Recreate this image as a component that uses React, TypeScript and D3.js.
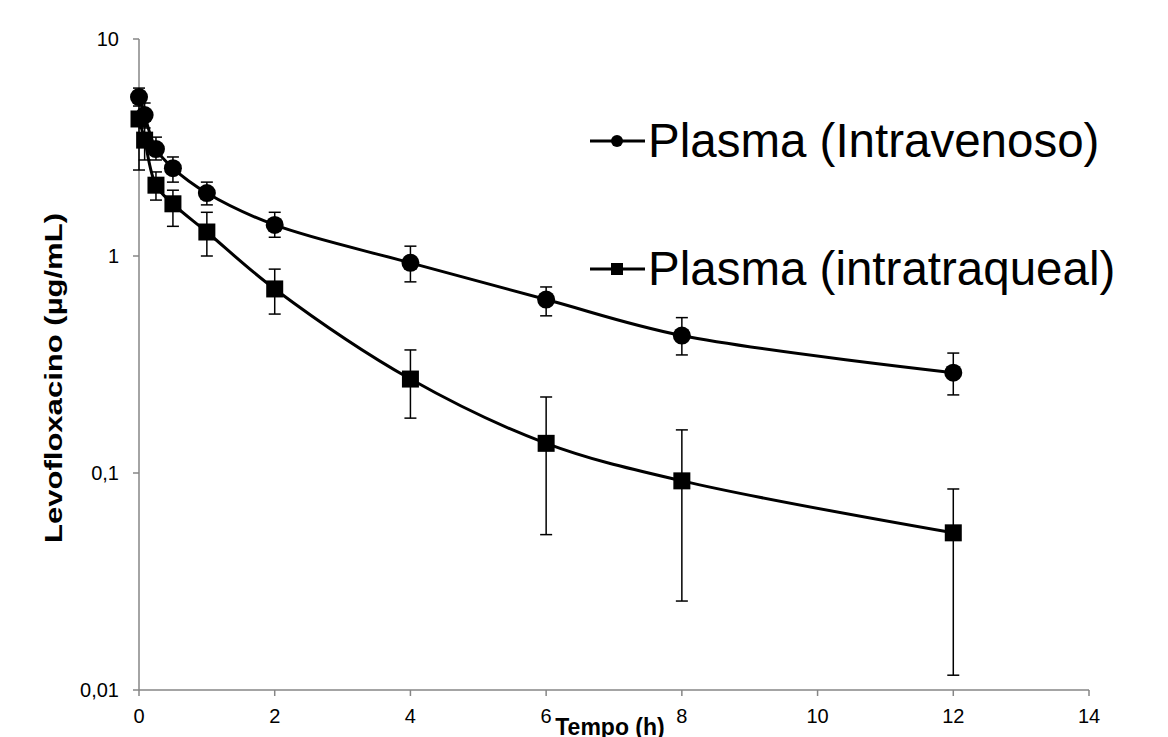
import React from "react";
import * as d3 from "d3";

// time points (h)
const times = [0, 0.083, 0.25, 0.5, 1, 2, 4, 6, 8, 12];

// Plasma (Intravenoso)
const ivMean = [5.4, 4.46, 3.11, 2.54, 1.95, 1.39, 0.93, 0.63, 0.43, 0.29];
const ivUpper = [5.94, 5.07, 3.53, 2.86, 2.19, 1.59, 1.11, 0.72, 0.52, 0.357];
const ivLower = [4.91, 3.89, 2.77, 2.19, 1.72, 1.22, 0.76, 0.53, 0.35, 0.229];

// Plasma (intratraqueal)
const itMean = [4.28, 3.42, 2.12, 1.74, 1.29, 0.705, 0.271, 0.137, 0.092, 0.053];
const itUpper = [5.2, 4.23, 2.44, 2.01, 1.59, 0.87, 0.369, 0.224, 0.158, 0.0844];
const itLower = [2.49, 2.77, 1.81, 1.37, 1.0, 0.54, 0.179, 0.052, 0.0257, 0.0117];

const xTicks = [0, 2, 4, 6, 8, 10, 12, 14];
const yTicks = [0.01, 0.1, 1, 10];
const yTickLabels = ["0,01", "0,1", "1", "10"];

const W = 1168;
const H = 737;
const FONT = "'Liberation Sans', Arial, sans-serif";
const AXIS = "#868686";

const x = d3.scaleLinear().domain([0, 14]).range([139, 1089]);
const y = d3.scaleLog().domain([0.01, 10]).range([690, 39]);

const line = d3
  .line<[number, number]>()
  .x((d) => x(d[0]))
  .y((d) => y(d[1]))
  .curve(d3.curveCatmullRom.alpha(0.5));

function ErrorBars({ upper, lower }: { upper: number[]; lower: number[] }) {
  return (
    <g stroke="#000" strokeWidth={1.5}>
      {times.map((t, i) => (
        <g key={i}>
          <line x1={x(t)} x2={x(t)} y1={y(upper[i])} y2={y(lower[i])} />
          <line x1={x(t) - 6} x2={x(t) + 6} y1={y(upper[i])} y2={y(upper[i])} />
          <line x1={x(t) - 6} x2={x(t) + 6} y1={y(lower[i])} y2={y(lower[i])} />
        </g>
      ))}
    </g>
  );
}

export default function App() {
  const ivPts = times.map((t, i) => [t, ivMean[i]] as [number, number]);
  const itPts = times.map((t, i) => [t, itMean[i]] as [number, number]);

  return (
    <svg
      width={W}
      height={H}
      style={{ position: "absolute", left: 0, top: 0, background: "#fff" }}
      fontFamily={FONT}
    >
      {/* axes */}
      <g stroke={AXIS} strokeWidth={1.5}>
        <line x1={x(0)} x2={x(0)} y1={y(10)} y2={y(0.01)} />
        <line x1={x(0)} x2={x(14)} y1={y(0.01)} y2={y(0.01)} />
        {yTicks.map((v) => (
          <line key={v} x1={x(0) - 6} x2={x(0)} y1={y(v)} y2={y(v)} />
        ))}
        {xTicks.map((v) => (
          <line key={v} x1={x(v)} x2={x(v)} y1={y(0.01)} y2={y(0.01) + 6} />
        ))}
      </g>
      <g fontSize={20} fill="#000">
        {yTicks.map((v, i) => (
          <text key={v} x={x(0) - 20} y={y(v) + 7} textAnchor="end">
            {yTickLabels[i]}
          </text>
        ))}
        {xTicks.map((v) => (
          <text key={v} x={x(v)} y={y(0.01) + 33} textAnchor="middle">
            {v}
          </text>
        ))}
      </g>

      {/* axis titles */}
      <text x={610} y={735} textAnchor="middle" fontSize={23} fontWeight="bold">
        Tempo (h)
      </text>
      <text
        transform={`translate(62,378) rotate(-90)`}
        textAnchor="middle"
        fontSize={23}
        fontWeight="bold"
        textLength={330}
        lengthAdjust="spacingAndGlyphs"
      >
        Levofloxacino (µg/mL)
      </text>

      {/* error bars */}
      <ErrorBars upper={ivUpper} lower={ivLower} />
      <ErrorBars upper={itUpper} lower={itLower} />

      {/* lines */}
      <path d={line(ivPts) ?? ""} fill="none" stroke="#000" strokeWidth={3} />
      <path d={line(itPts) ?? ""} fill="none" stroke="#000" strokeWidth={3} />

      {/* markers */}
      {ivPts.map((p, i) => (
        <circle key={i} cx={x(p[0])} cy={y(p[1])} r={9} fill="#000" />
      ))}
      {itPts.map((p, i) => (
        <rect key={i} x={x(p[0]) - 8.5} y={y(p[1]) - 8.5} width={17} height={17} fill="#000" />
      ))}

      {/* legend */}
      <g>
        <line x1={590} x2={645} y1={141} y2={141} stroke="#000" strokeWidth={3} />
        <circle cx={617} cy={141} r={6} fill="#000" />
        <text x={648} y={157} fontSize={47.5}>
          Plasma (Intravenoso)
        </text>
        <line x1={590} x2={645} y1={269} y2={269} stroke="#000" strokeWidth={3} />
        <rect x={611} y={263} width={12} height={12} fill="#000" />
        <text x={648} y={285} fontSize={47.5}>
          Plasma (intratraqueal)
        </text>
      </g>
    </svg>
  );
}
